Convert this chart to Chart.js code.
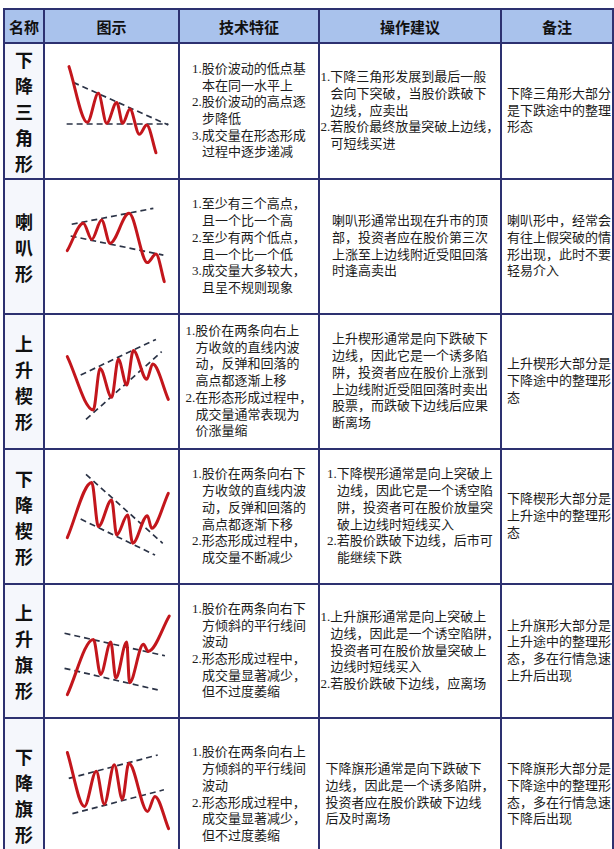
<!DOCTYPE html>
<html>
<head>
<meta charset="utf-8">
<script src="https://cdn.jsdelivr.net/npm/chart.js@4.4.1/dist/chart.umd.min.js"></script>
<style>
  body { margin: 0; background: #fff; width: 614px; height: 849px; overflow: hidden; position: relative;
         font-family: "Liberation Serif", "Noto Sans CJK SC", serif; color: #1c1c1c; }
  .cell { position: absolute; display: flex; align-items: center; box-sizing: border-box; }
  .head { background: #a9c2ec; justify-content: center; font-family: "Noto Sans CJK SC"; font-weight: bold; font-size: 15px; color: #111; }
  .name { justify-content: center; text-align: center; font-family: "Noto Sans CJK SC"; font-weight: bold; font-size: 18px; line-height: 26px; color: #111; background: #f5f7fc; }
  .txt { font-size: 13px; line-height: 16.7px; white-space: nowrap; }
  .center { justify-content: center; }
  .left { justify-content: flex-start; padding-left: 5px; }
  .cont { padding-left: 10px; }
  .hl { position: absolute; background: #2d3170; height: 2px; }
  .vl { position: absolute; background: #2d3170; width: 2px; }
  canvas { position: absolute; }
</style>
</head>
<body>
<script>
// ---- data ----
var headers = ["名称", "图示", "技术特征", "操作建议", "备注"];
var patternNames = ["下降三角形", "喇叭形", "上升楔形", "下降楔形", "上升旗形", "下降旗形"];

// price paths and boundary lines, in 0-100 units (x right, y up)
var descTrianglePrice = [[14.6,84],[28.7,42.7],[37.2,64.2],[43.6,42],[51.3,57.5],[55.9,42],[61.5,52.6],[68.7,33.8],[74.4,40.7],[81.5,20.2]];
var descTriangleUpper = [[17.9,72.3],[91,40.7]];
var descTriangleLower = [[12.8,41.5],[91,41.5]];

var megaphonePrice = [[13.3,47.7],[25.6,67.9],[32.1,56],[39.7,70.4],[46.2,53.1],[60.8,75.3],[74.9,38.8],[81.5,45.2],[87.9,24.7]];
var megaphoneUpper = [[16.7,67.2],[79.5,79]];
var megaphoneLower = [[15.9,58.5],[87.2,44.4]];

var risingWedgePrice = [[13.3,66.7],[33.3,28.6],[38.5,58.3],[47.4,37.6],[52.6,64.8],[59,46.4],[64.1,71],[74.4,50.5],[79,61.4],[91,36.2]];
var risingWedgeUpper = [[23.6,53.6],[81.5,79]];
var risingWedgeLower = [[27.7,21.9],[85.9,70.2]];

var fallingWedgePrice = [[13.3,33.8],[32.1,73.3],[37.2,41.7],[47.4,60.7],[51.3,35.7],[59.7,50],[63.6,29.8],[74.9,49.5],[78.2,40.5],[91,65.5]];
var fallingWedgeUpper = [[27.7,79],[86.7,29.8]];
var fallingWedgeLower = [[23.6,47.1],[80.8,21.4]];

var bullFlagPrice = [[12.3,21.5],[30.8,59.3],[35.9,35.3],[43.1,57.5],[46.7,32.8],[54.4,57.5],[56.4,29.6],[66.2,56],[69.7,51.1],[84.6,75.3]];
var bullFlagUpper = [[10.3,63.5],[81.5,48.1]];
var bullFlagLower = [[10.3,39.5],[76.4,24.7]];

var bearFlagPrice = [[12.3,71.7],[24.4,35.7],[32.8,59.2],[38.5,37.2],[45.6,63.5],[51.3,40.5],[55.9,64.5],[69.2,32.4],[74.4,42.4],[84.1,20.9]];
var bearFlagUpper = [[13.3,54.4],[76.4,70]];
var bearFlagLower = [[15.9,30.9],[80.8,46.8]];

// text lines ("+" prefix = continuation line, indented)
var techText = [
  ["1.股价波动的低点基","+本在同一水平上","2.股价波动的高点逐","+步降低","3.成交量在形态形成","+过程中逐步递减"],
  ["1.至少有三个高点，","+且一个比一个高","2.至少有两个低点，","+且一个比一个低","3.成交量大多较大，","+且呈不规则现象"],
  ["1.股价在两条向右上","+方收敛的直线内波","+动，反弹和回落的","+高点都逐渐上移","2.在形态形成过程中，","+成交量通常表现为","+价涨量缩"],
  ["1.股价在两条向右下","+方收敛的直线内波","+动，反弹和回落的","+高点都逐渐下移","2.形态形成过程中，","+成交量不断减少"],
  ["1.股价在两条向右下","+方倾斜的平行线间","+波动","2.形态形成过程中，","+成交量显著减少，","+但不过度萎缩"],
  ["1.股价在两条向右上","+方倾斜的平行线间","+波动","2.形态形成过程中，","+成交量显著减少，","+但不过度萎缩"]
];
var adviceText = [
  ["1.下降三角形发展到最后一般","+会向下突破，当股价跌破下","+边线，应卖出","2.若股价最终放量突破上边线，","+可短线买进"],
  ["喇叭形通常出现在升市的顶","部，投资者应在股价第三次","上涨至上边线附近受阻回落","时逢高卖出"],
  ["上升楔形通常是向下跌破下","边线，因此它是一个诱多陷","阱，投资者应在股价上涨到","上边线附近受阻回落时卖出","股票，而跌破下边线后应果","断离场"],
  ["1.下降楔形通常是向上突破上","+边线，因此它是一个诱空陷","+阱，投资者可在股价放量突","+破上边线时短线买入","2.若股价跌破下边线，后市可","+能继续下跌"],
  ["1.上升旗形通常是向上突破上","+边线，因此是一个诱空陷阱，","+投资者可在股价放量突破上","+边线时短线买入","2.若股价跌破下边线，应离场"],
  ["下降旗形通常是向下跌破下","边线，因此是一个诱多陷阱，","投资者应在股价跌破下边线","后及时离场"]
];
var remarkText = [
  ["下降三角形大部分","是下跌途中的整理","形态"],
  ["喇叭形中，经常会","有往上假突破的情","形出现，此时不要","轻易介入"],
  ["上升楔形大部分是","下降途中的整理形","态"],
  ["下降楔形大部分是","上升途中的整理形","态"],
  ["上升旗形大部分是","上升途中的整理形","态，多在行情急速","上升后出现"],
  ["下降旗形大部分是","下降途中的整理形","态，多在行情急速","下降后出现"]
];

var patternSeries = [
  [descTrianglePrice, descTriangleUpper, descTriangleLower],
  [megaphonePrice, megaphoneUpper, megaphoneLower],
  [risingWedgePrice, risingWedgeUpper, risingWedgeLower],
  [fallingWedgePrice, fallingWedgeUpper, fallingWedgeLower],
  [bullFlagPrice, bullFlagUpper, bullFlagLower],
  [bearFlagPrice, bearFlagUpper, bearFlagLower]
];

// ---- layout ----
var colX = [3, 43, 178, 318, 500, 612];
var rowY = [8, 42, 178, 313, 448, 583, 717, 870];
var chartBox = [
  { left: 50, top: 45, w: 130, h: 135 },
  { left: 50, top: 180, w: 130, h: 135 },
  { left: 50, top: 310, w: 130, h: 140 },
  { left: 50, top: 445, w: 130, h: 140 },
  { left: 50, top: 580, w: 141, h: 146 },
  { left: 50, top: 710, w: 141, h: 150 }
];

function addCell(cls, x0, x1, y0, y1, html) {
  var d = document.createElement("div");
  d.className = "cell " + cls;
  d.style.left = (x0 + 2) + "px";
  d.style.top = (y0 + 2) + "px";
  d.style.width = (x1 - x0 - 2) + "px";
  d.style.height = (y1 - y0 - 2) + "px";
  d.innerHTML = html;
  document.body.appendChild(d);
}

function linesHtml(lines) {
  return "<div>" + lines.map(function(l) {
    if (l.charAt(0) === "+") return '<div class="cont">' + l.slice(1) + "</div>";
    return "<div>" + l + "</div>";
  }).join("") + "</div>";
}

// header
headers.forEach(function(h, i) {
  addCell("head", colX[i], colX[i + 1], rowY[0], rowY[1], h);
});

// body rows
patternNames.forEach(function(name, r) {
  var y0 = rowY[r + 1], y1 = rowY[r + 2];
  addCell("name", colX[0], colX[1], y0, y1, name.split("").join("<br>"));
  addCell("txt center", colX[2], colX[3], y0, y1, linesHtml(techText[r]));
  addCell("txt center", colX[3], colX[4], y0, y1, linesHtml(adviceText[r]));
  addCell("txt left", colX[4], colX[5], y0, y1, linesHtml(remarkText[r]));
});

// grid lines
rowY.slice(0, 7).forEach(function(y) {
  var l = document.createElement("div");
  l.className = "hl";
  l.style.left = colX[0] + "px"; l.style.top = y + "px";
  l.style.width = (colX[5] - colX[0] + 2) + "px";
  document.body.appendChild(l);
});
colX.forEach(function(x) {
  var l = document.createElement("div");
  l.className = "vl";
  l.style.left = x + "px"; l.style.top = rowY[0] + "px";
  l.style.height = (849 - rowY[0]) + "px";
  document.body.appendChild(l);
});

function toXY(pts) {
  return pts.map(function(p) { return { x: p[0], y: p[1] }; });
}

function makePattern(box, series) {
  var c = document.createElement("canvas");
  c.width = box.w; c.height = box.h;
  c.style.left = box.left + "px"; c.style.top = box.top + "px";
  document.body.appendChild(c);
  var dash = { borderColor: "#2b3346", borderWidth: 1.7, borderDash: [6, 4], pointRadius: 0, fill: false };
  return new Chart(c, {
    type: "line",
    data: {
      datasets: [
        { data: toXY(series[0]), borderColor: "#c3161c", borderWidth: 3, pointRadius: 0,
          cubicInterpolationMode: "monotone", fill: false, borderCapStyle: "round" },
        Object.assign({ data: toXY(series[1]) }, dash),
        Object.assign({ data: toXY(series[2]) }, dash)
      ]
    },
    options: {
      responsive: false,
      animation: false,
      events: [],
      layout: { padding: 0 },
      plugins: { legend: { display: false }, tooltip: { enabled: false } },
      scales: {
        x: { type: "linear", min: 0, max: 100, display: false },
        y: { min: 0, max: 100, display: false }
      }
    }
  });
}

patternSeries.forEach(function(s, i) { makePattern(chartBox[i], s); });
</script>
</body>
</html>
